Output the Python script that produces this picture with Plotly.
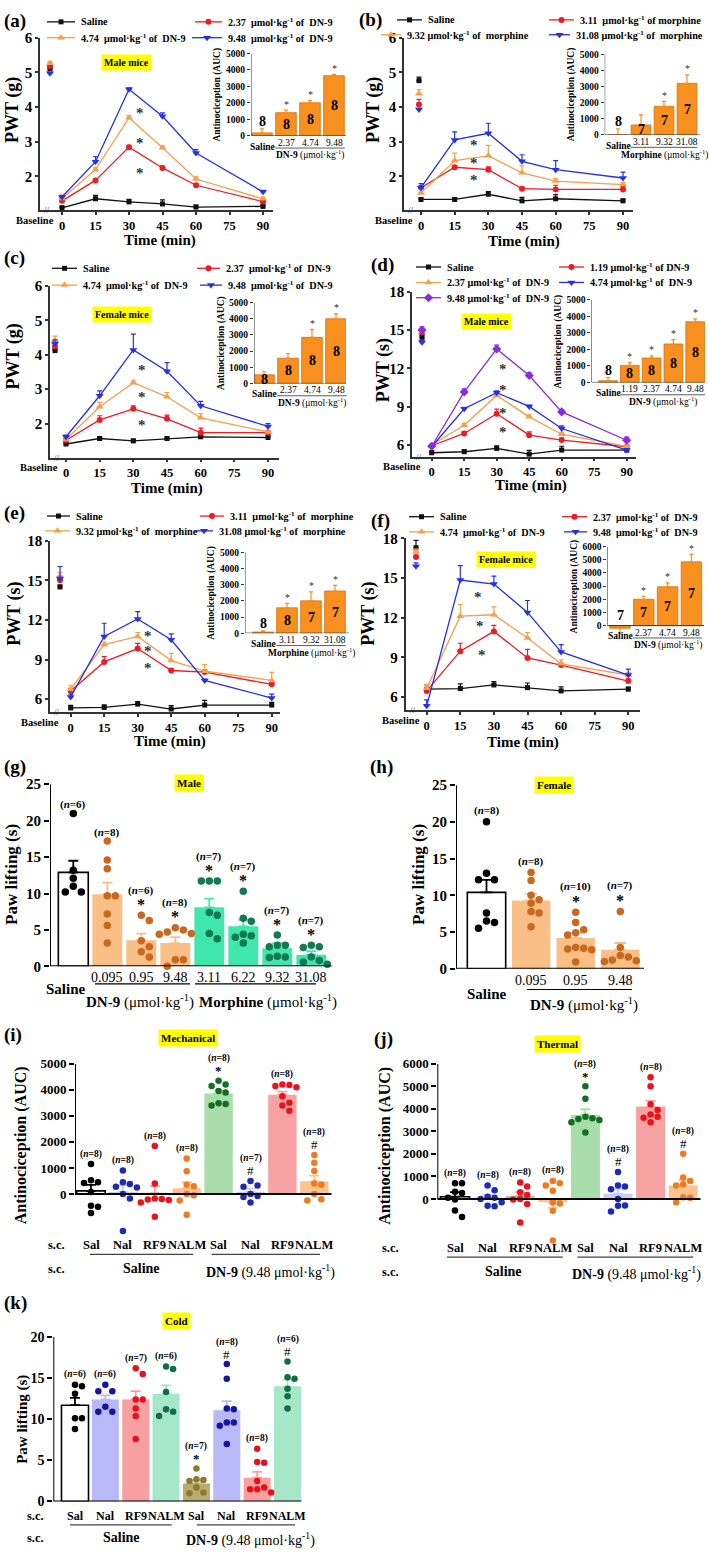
import plotly.graph_objects as go

W, H = 709, 1557
SERIF = "Liberation Serif"

# ======================= DATA =======================
TIMES = [0, 15, 30, 45, 60, 90]
TIME_TICKS = [0, 15, 30, 45, 60, 75, 90]

# ---- (a) male mice, DN-9, PWT (g) ----
a_legend = ["Saline", "2.37  μmol·kg<sup>-1</sup> of  DN-9", "4.74  μmol·kg<sup>-1</sup> of  DN-9", "9.48  μmol·kg<sup>-1</sup> of  DN-9"]
a_baseline = [5.10, 5.18, 5.26, 4.97]
a_baseline_err = [0.05, 0.05, 0.06, 0.03]
a_saline = [1.09, 1.35, 1.26, 1.20, 1.11, 1.13]
a_saline_err = [0.05, 0.10, 0.07, 0.12, 0.06, 0.06]
a_dn9_237 = [1.29, 1.88, 2.84, 2.24, 1.74, 1.27]
a_dn9_237_err = [0.05, 0.04, 0.05, 0.05, 0.05, 0.06]
a_dn9_474 = [1.36, 2.19, 3.69, 2.82, 1.92, 1.35]
a_dn9_474_err = [0.10, 0.05, 0.06, 0.05, 0.06, 0.05]
a_dn9_948 = [1.40, 2.42, 4.51, 3.73, 2.67, 1.55]
a_dn9_948_err = [0.04, 0.15, 0.04, 0.10, 0.10, 0.04]
a_star_t = [35, 35, 35]
a_star_v = [3.83, 2.97, 2.09]
a_auc_cats = ["Saline", "2.37", "4.74", "9.48"]
a_auc = [170, 1400, 2000, 3650]
a_auc_err = [250, 160, 150, 80]
a_auc_n = [8, 8, 8, 8]
a_auc_star = [0, 1, 1, 1]

# ---- (b) morphine, PWT (g) ----
b_legend = ["Saline", "3.11  μmol·kg<sup>-1</sup> of morphine", "9.32 μmol·kg<sup>-1</sup> of  morphine", "31.08 μmol·kg<sup>-1</sup> of  morphine"]
b_baseline = [4.76, 4.07, 4.38, 3.93]
b_baseline_err = [0.10, 0.15, 0.12, 0.03]
b_saline = [1.33, 1.33, 1.48, 1.29, 1.35, 1.29]
b_saline_err = [0.05, 0.05, 0.08, 0.10, 0.12, 0.05]
b_mor_311 = [1.67, 2.26, 2.19, 1.64, 1.62, 1.62]
b_mor_311_err = [0.05, 0.05, 0.08, 0.05, 0.12, 0.08]
b_mor_932 = [1.52, 2.45, 2.59, 2.10, 1.86, 1.76]
b_mor_932_err = [0.10, 0.22, 0.30, 0.20, 0.07, 0.06]
b_mor_3108 = [1.67, 3.05, 3.24, 2.43, 2.19, 1.95]
b_mor_3108_err = [0.12, 0.23, 0.29, 0.19, 0.26, 0.17]
b_star_t = [23.5, 23.5, 23.5]
b_star_v = [2.90, 2.38, 1.90]
b_auc_cats = ["Saline", "3.11", "9.32", "31.08"]
b_auc = [0, 620, 1780, 3200]
b_auc_err = [380, 620, 300, 520]
b_auc_n = [8, 7, 7, 7]
b_auc_star = [0, 0, 1, 1]

# ---- (c) female mice, DN-9, PWT (g) ----
c_legend = ["Saline", "2.37  μmol·kg<sup>-1</sup> of  DN-9", "4.74  μmol·kg<sup>-1</sup> of  DN-9", "9.48  μmol·kg<sup>-1</sup> of  DN-9"]
c_baseline = [4.12, 4.25, 4.42, 4.33]
c_baseline_err = [0.05, 0.08, 0.12, 0.10]
c_saline = [1.41, 1.57, 1.50, 1.57, 1.62, 1.60]
c_saline_err = [0.04, 0.04, 0.05, 0.04, 0.04, 0.04]
c_dn9_237 = [1.52, 2.11, 2.43, 2.14, 1.74, 1.74]
c_dn9_237_err = [0.04, 0.12, 0.09, 0.11, 0.13, 0.05]
c_dn9_474 = [1.54, 2.49, 3.19, 2.78, 2.17, 1.76]
c_dn9_474_err = [0.04, 0.13, 0.07, 0.12, 0.12, 0.05]
c_dn9_948 = [1.62, 2.81, 4.14, 3.52, 2.52, 1.92]
c_dn9_948_err = [0.05, 0.14, 0.46, 0.25, 0.13, 0.08]
c_star_t = [34, 34, 34]
c_star_v = [3.57, 2.76, 1.95]
c_auc_cats = ["Saline", "2.37", "4.74", "9.48"]
c_auc = [530, 1560, 2850, 4000]
c_auc_err = [190, 290, 500, 300]
c_auc_n = [8, 8, 8, 8]
c_auc_star = [0, 0, 1, 1]

# ---- (d) male mice, DN-9, PWT (s) ----
d_legend = ["Saline", "1.19 μmol·kg<sup>-1</sup> of DN-9", "2.37 μmol·kg<sup>-1</sup> of  DN-9", "4.74 μmol·kg<sup>-1</sup> of  DN-9", "9.48 μmol·kg<sup>-1</sup> of  DN-9"]
d_baseline = [14.43, 14.80, 14.90, 14.04, 15.00]
d_baseline_err = [0.20, 0.20, 0.20, 0.15, 0.25]
d_saline = [5.39, 5.47, 5.73, 5.28, 5.60, 5.60]
d_saline_err = [0.15, 0.15, 0.20, 0.30, 0.30, 0.15]
d_dn9_119 = [5.94, 6.90, 8.45, 6.77, 6.38, 5.86]
d_dn9_119_err = [0.10, 0.15, 0.35, 0.25, 0.15, 0.10]
d_dn9_237 = [6.00, 7.54, 9.88, 8.20, 6.84, 5.88]
d_dn9_237_err = [0.10, 0.15, 0.15, 0.15, 0.15, 0.10]
d_dn9_474 = [5.86, 8.84, 10.09, 9.02, 7.29, 5.60]
d_dn9_474_err = [0.10, 0.10, 0.15, 0.10, 0.20, 0.10]
d_dn9_948 = [5.90, 10.15, 13.52, 11.44, 8.59, 6.37]
d_dn9_948_err = [0.10, 0.25, 0.30, 0.20, 0.15, 0.25]
d_star_t = [33, 33, 33, 33]
d_star_v = [11.96, 10.27, 8.51, 7.03]
d_auc_cats = ["Saline", "1.19", "2.37", "4.74", "9.48"]
d_auc = [100, 1030, 1480, 2330, 3680]
d_auc_err = [200, 170, 130, 270, 170]
d_auc_n = [8, 8, 8, 8, 8]
d_auc_star = [0, 1, 1, 1, 1]

# ---- (e) morphine, PWT (s) ----
e_legend = ["Saline", "3.11  μmol·kg<sup>-1</sup> of  morphine", "9.32 μmol·kg<sup>-1</sup> of  morphine", "31.08 μmol·kg<sup>-1</sup> of  morphine"]
e_baseline = [14.50, 15.00, 15.30, 15.15]
e_baseline_err = [0.15, 0.30, 0.30, 0.90]
e_saline = [5.33, 5.37, 5.62, 5.25, 5.55, 5.55]
e_saline_err = [0.20, 0.20, 0.20, 0.25, 0.35, 0.20]
e_mor_311 = [6.62, 8.82, 9.83, 8.17, 8.05, 7.12]
e_mor_311_err = [0.20, 0.40, 0.40, 0.15, 0.15, 0.15]
e_mor_932 = [6.75, 10.13, 10.75, 8.92, 8.12, 7.42]
e_mor_932_err = [0.30, 0.20, 0.30, 0.55, 0.50, 0.60]
e_mor_3108 = [6.17, 10.75, 12.08, 10.50, 7.42, 6.08]
e_mor_3108_err = [0.20, 1.00, 0.55, 0.45, 0.10, 0.30]
e_star_t = [34.7, 34.7, 34.7]
e_star_v = [10.82, 9.62, 8.33]
e_auc_cats = ["Saline", "3.11", "9.32", "31.08"]
e_auc = [70, 1570, 2000, 2610]
e_auc_err = [80, 270, 550, 350]
e_auc_n = [8, 8, 7, 7]
e_auc_star = [0, 1, 1, 1]

# ---- (f) female mice, DN-9, PWT (s) ----
f_legend = ["Saline", "2.37  μmol·kg<sup>-1</sup> of  DN-9", "4.74  μmol·kg<sup>-1</sup> of  DN-9", "9.48  μmol·kg<sup>-1</sup> of  DN-9"]
f_baseline = [17.30, 16.60, 17.00, 15.90]
f_baseline_err = [0.55, 0.15, 0.20, 0.25]
f_saline = [6.58, 6.63, 6.90, 6.70, 6.45, 6.58]
f_saline_err = [0.35, 0.35, 0.25, 0.35, 0.30, 0.15]
f_dn9_237 = [6.45, 9.46, 10.96, 8.95, 8.41, 7.20]
f_dn9_237_err = [0.20, 0.60, 0.45, 0.65, 0.10, 0.15]
f_dn9_474 = [6.65, 12.11, 12.22, 10.46, 8.50, 7.65]
f_dn9_474_err = [0.30, 0.90, 0.60, 0.40, 0.30, 0.20]
f_dn9_948 = [5.32, 14.85, 14.55, 12.40, 9.40, 7.65]
f_dn9_948_err = [0.45, 1.10, 0.60, 0.90, 0.55, 0.45]
f_star_t = [23.0, 23.8, 24.8]
f_star_v = [13.6, 11.34, 9.2]
f_auc_cats = ["Saline", "2.37", "4.74", "9.48"]
f_auc = [-200, 2000, 2950, 4850]
f_auc_err = [400, 230, 300, 570]
f_auc_n = [7, 7, 7, 7]
f_auc_star = [0, 1, 1, 1]

# ---- (g) male, paw lifting ----
g_cats = ["Saline", "0.095", "0.95", "9.48", "3.11", "6.22", "9.32", "31.08"]
g_bar = [12.9, 9.9, 3.6, 3.2, 8.1, 5.5, 2.5, 1.6]
g_err = [1.6, 1.6, 0.9, 0.8, 1.2, 0.9, 0.7, 0.5]
g_pts = [
    [21.0, 13.2, 12.1, 11.0, 10.2, 10.2],
    [17.2, 14.6, 13.4, 9.7, 9.7, 7.2, 5.6, 3.2],
    [7.0, 6.3, 3.5, 2.7, 2.0, 1.3],
    [5.3, 5.0, 4.7, 4.5, 4.4, 0.9, 0.9, 0.0],
    [11.7, 11.7, 11.7, 7.4, 7.0, 4.5, 3.8],
    [10.3, 6.6, 6.2, 4.4, 4.2, 4.0, 3.2],
    [4.3, 2.9, 2.9, 2.7, 1.4, 1.3, 1.2],
    [2.9, 2.7, 2.6, 1.3, 0.8, 0.6, 0.3],
]
g_n = [6, 8, 6, 8, 7, 7, 7, 7]
g_marks = ["", "", "*", "*", "*", "*", "*", "*"]

# ---- (h) female, paw lifting ----
h_cats = ["Saline", "0.095", "0.95", "9.48"]
h_bar = [10.4, 9.3, 4.2, 2.6]
h_err = [1.7, 0.9, 0.7, 0.9]
h_pts = [
    [20.0, 13.0, 12.1, 12.1, 7.6, 6.5, 6.3, 5.5],
    [13.1, 12.0, 10.0, 9.4, 8.9, 7.8, 7.6, 5.7],
    [7.7, 6.3, 5.3, 4.9, 4.6, 2.9, 2.8, 2.7, 2.6, 0.9],
    [7.8, 2.9, 1.8, 1.6, 1.2, 1.1, 1.0],
]
h_n = [8, 8, 10, 7]
h_marks = ["", "", "*", "*"]

# ---- (i) mechanical AUC ----
AB_CATS = ["Sal", "Nal", "RF9", "NALM", "Sal", "Nal", "RF9", "NALM"]
i_bar = [120, 80, 30, 220, 3860, 83, 3810, 485]
i_err = [230, 250, 270, 230, 110, 120, 120, 220]
i_pts = [
    [1150, 530, 450, 420, 80, -450, -490, -730],
    [900, 450, 380, 280, 250, 0, -170, -1420],
    [1840, 400, -170, -190, -210, -230, -330, -870],
    [1360, 870, 350, 300, 0, -50, -250, -800],
    [4350, 4200, 4150, 3950, 3900, 3480, 3450, 3400],
    [500, 330, 280, 0, -80, -120, -330],
    [4200, 4180, 4150, 4100, 3750, 3500, 3400, 3200],
    [1500, 1200, 880, 400, 350, 0, -200, -250],
]
i_n = [8, 8, 8, 8, 8, 7, 8, 8]
i_marks = ["", "", "", "", "*", "#", "", "#"]

# ---- (j) thermal AUC ----
j_bar = [100, 60, 130, -150, 3730, 230, 4100, 600]
j_err = [200, 120, 170, 250, 250, 200, 250, 250]
j_pts = [
    [700, 700, 320, 260, 50, -30, -510, -800],
    [600, 380, 100, 50, 0, -150, -300, -320],
    [730, 550, 300, 180, 0, -30, -220, -1050],
    [800, 700, 600, 360, -160, -200, -520, -1850],
    [5000, 4450, 3650, 3580, 3550, 3500, 3400, 2950],
    [1200, 600, 550, 430, 0, -290, -300, -560],
    [5400, 5000, 4200, 3950, 3750, 3650, 3600, 3400],
    [2000, 950, 800, 650, 600, 80, 50, -150],
]
j_n = [8, 8, 8, 8, 8, 8, 8, 8]
j_marks = ["", "", "", "", "*", "#", "", "#"]

# ---- (k) cold, paw lifting ----
k_bar = [11.7, 12.4, 12.4, 13.1, 2.2, 11.1, 2.9, 14.0]
k_err = [0.9, 0.5, 1.0, 1.0, 0.4, 1.1, 0.7, 0.8]
k_pts = [
    [14.2, 14.0, 13.1, 10.1, 10.1, 8.8],
    [14.2, 13.4, 13.4, 11.5, 10.9, 10.9],
    [16.2, 15.5, 12.4, 12.4, 11.3, 10.4, 7.6],
    [16.4, 16.1, 13.3, 11.2, 10.9, 10.4],
    [4.0, 2.7, 2.6, 2.5, 1.7, 1.1, 1.0],
    [16.7, 14.9, 11.3, 11.2, 9.6, 9.6, 9.2, 7.0],
    [6.4, 4.8, 4.7, 2.5, 1.7, 1.5, 1.5, 1.1],
    [17.0, 15.1, 14.9, 13.7, 12.8, 11.3],
]
k_n = [6, 6, 7, 6, 7, 8, 8, 6]
k_marks = ["", "", "", "", "*", "#", "", "#"]

# ======================= HELPERS =======================
fig = go.Figure()
ANN, SHP, LEG = [], [], []
_n = [0]

STYLE = {
    'sal': dict(color='#111111', symbol='square', size=5),
    'red': dict(color='#EE1C25', symbol='circle', size=6),
    'org': dict(color='#F5A04A', symbol='triangle-up', size=7),
    'blu': dict(color='#2530E8', symbol='triangle-down', size=7),
    'pur': dict(color='#8A2BE2', symbol='diamond', size=7),
}
INSET_ORANGE = '#F7901E'


def add_axes(x0, x1, y0, y1, xr, yr, xkw=None, ykw=None):
    _n[0] += 1
    s = '' if _n[0] == 1 else str(_n[0])
    base = dict(showgrid=False, zeroline=False, fixedrange=True)
    xa = dict(base, domain=[max(0, x0 / W), min(1, x1 / W)], range=xr, anchor='y' + s)
    ya = dict(base, domain=[max(0, 1 - y1 / H), min(1, 1 - y0 / H)], range=yr, anchor='x' + s)
    xa.update(xkw or {})
    ya.update(ykw or {})
    fig.update_layout(**{'xaxis' + s: xa, 'yaxis' + s: ya})
    return 'x' + s, 'y' + s


def tfont(size):
    return dict(family=SERIF, size=size, color='black', weight='bold')


def T(px, py, text, size=12, bold=True, xa='center', ya='middle', color='black', bg=None, angle=0):
    t = "<b>%s</b>" % text if bold else text
    d = dict(x=px / W, y=1 - py / H, xref='paper', yref='paper', text=t, showarrow=False,
             xanchor=xa, yanchor=ya, font=dict(family=SERIF, size=size, color=color), textangle=angle)
    if bg:
        d.update(bgcolor=bg, borderpad=2)
    ANN.append(d)


def TD(xr, yr, x, y, text, size=12, bold=True, yshift=0, color='black'):
    t = "<b>%s</b>" % text if bold else text
    ANN.append(dict(x=x, y=y, xref=xr, yref=yr, text=t, showarrow=False, yshift=yshift,
                    xanchor='center', yanchor='middle', font=dict(family=SERIF, size=size, color=color)))


def L(x0, y0, x1, y1, color='black', w=1.2):
    SHP.append(dict(type='line', xref='paper', yref='paper', x0=x0 / W, x1=x1 / W,
                    y0=1 - y0 / H, y1=1 - y1 / H, line=dict(color=color, width=w)))


def LD(xr, yr, x0, y0, x1, y1, color='black', w=2):
    SHP.append(dict(type='line', xref=xr, yref=yr, x0=x0, x1=x1, y0=y0, y1=y1,
                    line=dict(color=color, width=w)))


def swarm(vals, ppu_y, d):
    order = sorted(range(len(vals)), key=lambda i: -vals[i])
    placed, offs = [], [0.0] * len(vals)
    cands = [0.0]
    for m in range(1, 8):
        cands += [m * d, -m * d]
    for i in order:
        y = vals[i] * ppu_y
        for c in cands:
            if all((c - px) ** 2 + (y - py) ** 2 >= (0.97 * d) ** 2 for px, py in placed):
                offs[i] = c
                placed.append((c, y))
                break
    return offs


# ---------------- line panels ----------------
def line_panel(P):
    xs = (P['p90'] - P['p0']) / 90.0
    tof = lambda px: (px - P['p0']) / xs
    k = (P['vB'] - P['vA']) / (P['pB'] - P['pA'])
    vof = lambda py: P['vA'] + (py - P['pA']) * k
    axl = dict(showline=True, linecolor='#333', linewidth=1.5, ticks='outside', ticklen=3,
               tickwidth=1.5, tickcolor='#333')
    xa, ya = add_axes(P['l'], P['r'], P['top'], P['bot'],
                      [tof(P['l']), tof(P['r'])], [vof(P['bot']), vof(P['top'])],
                      xkw=dict(axl, tickvals=TIME_TICKS, ticktext=[str(t) for t in TIME_TICKS], tickfont=tfont(12.5)),
                      ykw=dict(axl, tickvals=P['yticks'], ticktext=[str(t) for t in P['yticks']], tickfont=tfont(15)))
    bt = tof(P['bx'])
    for vals, errs, base, berr, sty in P['series']:
        st = STYLE[sty]
        mk = dict(symbol=st['symbol'], size=st['size'], color=st['color'])
        eb = dict(type='data', symmetric=False, array=errs, arrayminus=[0] * len(errs),
                  color=st['color'], thickness=1.2, width=2.5)
        fig.add_trace(go.Scatter(x=TIMES, y=vals, mode='lines+markers', line=dict(color=st['color'], width=1.3),
                                 marker=mk, error_y=eb, xaxis=xa, yaxis=ya, cliponaxis=False, showlegend=False))
        fig.add_trace(go.Scatter(x=[bt], y=[base], mode='markers', marker=mk,
                                 error_y=dict(eb, array=[berr], arrayminus=[0]),
                                 xaxis=xa, yaxis=ya, cliponaxis=False, showlegend=False))
    for t, v in zip(*P['stars']):
        TD(xa, ya, t, v, '*', size=15, bold=True, color='#333')
    T(P['bl'][0], P['bl'][1], 'Baseline', size=10.5)
    T(P['l'] + 7, P['bot'], '//', size=9, bold=False, color='#333')
    T(P['xt'][0], P['xt'][1] + 3, 'Time (min)', size=15)
    T(P['yt'][0], P['yt'][1], P['ytitle'], size=18, angle=-90)
    T(P['lab'][0], P['lab'][1], P['label'], size=19, bold=True, xa='left')
    if P.get('tag'):
        T(P['tag'][1], P['tag'][2], P['tag'][0], size=10, bg='#FFFF00')
    for (y, x0, x1, sty, txt) in P['legend']:
        L(x0, y, x1, y, color=STYLE[sty]['color'], w=1.3)
        LEG.append(((x0 + x1) / 2, y, sty))
        T(x1 + 4, y, txt, size=10.2, xa='left')


def inset(P):
    n = len(P['cats'])
    step = P['step']
    xr = [(P['l'] - P['c0']) / step, (P['r'] - P['c0']) / step]
    ppu = (P['y0'] - P['ytop']) / P['ymax']
    ymin = P.get('ymin', 0)
    bot = P['y0'] - ymin * ppu
    yt = list(range(0, P['ymax'] + 1, 1000))
    xa, ya = add_axes(P['l'], P['r'], P['ytop'], bot, xr, [ymin, P['ymax']],
                      xkw=dict(visible=False),
                      ykw=dict(showline=False, ticks='outside', ticklen=3, tickwidth=1, tickcolor='#333',
                               tickvals=yt, ticktext=[str(v) for v in yt], tickfont=tfont(9.5)))
    LD(xa, ya, xr[0], 0, xr[0], P['ymax'], color='#333', w=1)
    LD(xa, ya, xr[0], 0, xr[1], 0, color='#333', w=1)
    for i in range(n):
        v, e = P['vals'][i], P['errs'][i]
        fig.add_trace(go.Bar(x=[i], y=[v], width=0.86,
                             marker=dict(color=INSET_ORANGE, line=dict(color='#D9700C', width=0.8)),
                             error_y=dict(type='data', symmetric=False, array=[e if v >= 0 else 0],
                                          arrayminus=[0 if v >= 0 else e], color=INSET_ORANGE,
                                          thickness=1.2, width=2),
                             xaxis=xa, yaxis=ya, showlegend=False))
        if v >= 400:
            ny = v / 2
        else:
            ny = max(v + e, 0) + 0.09 * P['ymax']
        TD(xa, ya, i, ny, str(P['n'][i]), size=14)
        if P['star'][i]:
            TD(xa, ya, i, v + e, '*', size=10, bold=False, yshift=6, color='#333')
        cx = P['c0'] + i * step
        if i == 0:
            T(cx, P['y0'] + 11, 'Saline', size=9.5)
        else:
            T(cx, P['y0'] + 7, P['cats'][i], size=9.5, bold=False)
    x0 = P['c0'] + 0.55 * step
    x1 = P['c0'] + (n - 1) * step + 0.45 * step
    L(x0, P['y0'] + 12.5, x1, P['y0'] + 12.5, color='#333', w=0.8)
    T((x0 + x1) / 2, P['y0'] + 19.5, P['group'], size=9.5, bold=False)
    T(P['l'] - 33, (P['ytop'] + P['y0']) / 2, 'Antinociception (AUC)', size=9.5, angle=-90)


def bar_panel(P):
    n = len(P['bars'])
    step = P['step']
    xr = [(P['l'] - P['c0']) / step, (P['r'] - P['c0']) / step]
    ppu = (P['y0'] - P['ytop']) / P['ymax']
    ymin = P.get('ymin', 0)
    bot = P['y0'] - ymin * ppu
    xa, ya = add_axes(P['l'], P['r'], P['ytop'], bot, xr, [ymin, P['ymax']],
                      xkw=dict(visible=False),
                      ykw=dict(showline=False, ticks='outside', ticklen=5, tickwidth=2, tickcolor='black',
                               tickvals=P['yticks'], ticktext=[str(v) for v in P['yticks']],
                               tickfont=tfont(P['tsize'])))
    LD(xa, ya, xr[0], 0, xr[0], P['ymax'], w=2)
    LD(xa, ya, xr[0], 0, xr[1], 0, w=2)
    for i in range(n):
        v, e = P['bars'][i], P['errs'][i]
        fill, dot = P['fill'][i], P['dot'][i]
        white = fill == 'white'
        fig.add_trace(go.Bar(x=[i], y=[v], width=P['bw'],
                             marker=dict(color=fill, line=dict(color='black' if white else fill, width=1.6 if white else 0)),
                             error_y=dict(type='data', symmetric=False, array=[e if v >= 0 else 0],
                                          arrayminus=[0 if v >= 0 else e], color='black' if white else fill,
                                          thickness=1.8, width=P['capw']),
                             xaxis=xa, yaxis=ya, showlegend=False))
        offs = swarm(P['pts'][i], ppu, P['dd'])
        fig.add_trace(go.Scatter(x=[i + o / step for o in offs], y=P['pts'][i], mode='markers',
                                 marker=dict(color=dot, size=P['ds']), xaxis=xa, yaxis=ya,
                                 cliponaxis=False, showlegend=False))
        top = max(max(P['pts'][i]), v + e)
        lab = "(<i>n</i>=%d)" % P['n'][i]
        if P['marks'][i]:
            TD(xa, ya, i, top, P['marks'][i], size=P['msize'], bold=P['marks'][i] == '*', yshift=P['mshift'])
            TD(xa, ya, i, top, lab, size=P['nsize'], yshift=P['nshift2'])
        else:
            TD(xa, ya, i, top, lab, size=P['nsize'], yshift=P['nshift1'])
    return [P['c0'] + i * step for i in range(n)]


# ======================= LINE PANELS =======================
LINE_PANELS = [
    dict(label='(a)', lab=(2, 13), l=40, r=273, p0=62, p90=263, top=30, bot=204, vA=6, pA=30, vB=2, pB=170, bx=50,
         yticks=[2, 3, 4, 5, 6], ytitle='PWT (g)', yt=(13, 103), xt=(160, 232), bl=(35, 215),
         series=[(a_saline, a_saline_err, a_baseline[0], a_baseline_err[0], 'sal'),
                 (a_dn9_237, a_dn9_237_err, a_baseline[1], a_baseline_err[1], 'red'),
                 (a_dn9_474, a_dn9_474_err, a_baseline[2], a_baseline_err[2], 'org'),
                 (a_dn9_948, a_dn9_948_err, a_baseline[3], a_baseline_err[3], 'blu')],
         stars=(a_star_t, a_star_v),
         legend=[(14, 47, 75, 'sal', a_legend[0]), (14, 195, 222, 'red', a_legend[1]),
                 (30, 47, 75, 'org', a_legend[2]), (30, 192, 222, 'blu', a_legend[3])],
         tag=('Male mice', 126, 55)),
    dict(label='(b)', lab=(357, 12), l=404, r=633, p0=421, p90=623, top=30, bot=204, vA=6, pA=30, vB=2, pB=170, bx=419,
         yticks=[2, 3, 4, 5, 6], ytitle='PWT (g)', yt=(374, 103), xt=(524, 233), bl=(394, 215),
         series=[(b_saline, b_saline_err, b_baseline[0], b_baseline_err[0], 'sal'),
                 (b_mor_311, b_mor_311_err, b_baseline[1], b_baseline_err[1], 'red'),
                 (b_mor_932, b_mor_932_err, b_baseline[2], b_baseline_err[2], 'org'),
                 (b_mor_3108, b_mor_3108_err, b_baseline[3], b_baseline_err[3], 'blu')],
         stars=(b_star_t, b_star_v),
         legend=[(12, 397, 422, 'sal', b_legend[0]), (12, 549, 574, 'red', b_legend[1]),
                 (27, 381, 401, 'org', b_legend[2]), (27, 549, 570, 'blu', b_legend[3])],
         tag=None),
    dict(label='(c)', lab=(2, 253), l=50, r=279, p0=66, p90=268, top=280.7, bot=454.3, vA=6, pA=280.7, vB=2, pB=420, bx=55,
         yticks=[2, 3, 4, 5, 6], ytitle='PWT (g)', yt=(13, 352), xt=(167, 482), bl=(39, 464),
         series=[(c_saline, c_saline_err, c_baseline[0], c_baseline_err[0], 'sal'),
                 (c_dn9_237, c_dn9_237_err, c_baseline[1], c_baseline_err[1], 'red'),
                 (c_dn9_474, c_dn9_474_err, c_baseline[2], c_baseline_err[2], 'org'),
                 (c_dn9_948, c_dn9_948_err, c_baseline[3], c_baseline_err[3], 'blu')],
         stars=(c_star_t, c_star_v),
         legend=[(263, 52, 77, 'sal', c_legend[0]), (263, 197, 220, 'red', c_legend[1]),
                 (280, 52, 77, 'org', c_legend[2]), (280, 200, 222, 'blu', c_legend[3])],
         tag=('Female mice', 122, 310)),
    dict(label='(d)', lab=(369, 260), l=412, r=636, p0=431.7, p90=626.7, top=286.7, bot=453.3, vA=18, pA=286.7, vB=6, pB=441.5, bx=422,
         yticks=[6, 9, 12, 15, 18], ytitle='PWT (s)', yt=(383, 366), xt=(531, 479), bl=(402, 463),
         series=[(d_saline, d_saline_err, d_baseline[0], d_baseline_err[0], 'sal'),
                 (d_dn9_119, d_dn9_119_err, d_baseline[1], d_baseline_err[1], 'red'),
                 (d_dn9_237, d_dn9_237_err, d_baseline[2], d_baseline_err[2], 'org'),
                 (d_dn9_474, d_dn9_474_err, d_baseline[3], d_baseline_err[3], 'blu'),
                 (d_dn9_948, d_dn9_948_err, d_baseline[4], d_baseline_err[4], 'pur')],
         stars=(d_star_t, d_star_v),
         legend=[(261.7, 416, 441, 'sal', d_legend[0]), (261.7, 559, 584, 'red', d_legend[1]),
                 (277.3, 416, 441, 'org', d_legend[2]), (277.3, 559, 584, 'blu', d_legend[3]),
                 (292.7, 416, 441, 'pur', d_legend[4])],
         tag=('Male mice', 486, 317)),
    dict(label='(e)', lab=(2, 510), l=50, r=280, p0=70.7, p90=271.7, top=538.3, bot=711.7, vA=18, pA=538.3, vB=6, pB=698.3, bx=60,
         yticks=[6, 9, 12, 15, 18], ytitle='PWT (s)', yt=(15, 612), xt=(170, 738), bl=(40, 722),
         series=[(e_saline, e_saline_err, e_baseline[0], e_baseline_err[0], 'sal'),
                 (e_mor_311, e_mor_311_err, e_baseline[1], e_baseline_err[1], 'red'),
                 (e_mor_932, e_mor_932_err, e_baseline[2], e_baseline_err[2], 'org'),
                 (e_mor_3108, e_mor_3108_err, e_baseline[3], e_baseline_err[3], 'blu')],
         stars=(e_star_t, e_star_v),
         legend=[(513.3, 47, 70, 'sal', e_legend[0]), (513.3, 200, 224, 'red', e_legend[1]),
                 (528.3, 45, 70, 'org', e_legend[2]), (528.3, 195, 213, 'blu', e_legend[3])],
         tag=None),
    dict(label='(f)', lab=(369, 518), l=405.5, r=640, p0=426.7, p90=628.3, top=536, bot=709.3, vA=18, pA=536, vB=6, pB=696, bx=416,
         yticks=[6, 9, 12, 15, 18], ytitle='PWT (s)', yt=(369, 612), xt=(523, 739), bl=(401, 720),
         series=[(f_saline, f_saline_err, f_baseline[0], f_baseline_err[0], 'sal'),
                 (f_dn9_237, f_dn9_237_err, f_baseline[1], f_baseline_err[1], 'red'),
                 (f_dn9_474, f_dn9_474_err, f_baseline[2], f_baseline_err[2], 'org'),
                 (f_dn9_948, f_dn9_948_err, f_baseline[3], f_baseline_err[3], 'blu')],
         stars=(f_star_t, f_star_v),
         legend=[(514, 409, 434, 'sal', f_legend[0]), (514, 562, 587, 'red', f_legend[1]),
                 (529.3, 409, 434, 'org', f_legend[2]), (529.3, 564, 587, 'blu', f_legend[3])],
         tag=('Female mice', 506, 557)),
]
for P in LINE_PANELS:
    line_panel(P)

DN9_G = '<b>DN-9</b> (μmol·kg<sup>-1</sup>)'
MOR_G = '<b>Morphine</b> (μmol·kg<sup>-1</sup>)'
INSETS = [
    dict(l=251, r=346, c0=262, step=24, y0=129, ytop=46, ymax=5000, cats=a_auc_cats, vals=a_auc, errs=a_auc_err, n=a_auc_n, star=a_auc_star, group=DN9_G),
    dict(l=604.7, r=700, c0=618, step=23, y0=128.3, ytop=46.7, ymax=5000, cats=b_auc_cats, vals=b_auc, errs=b_auc_err, n=b_auc_n, star=b_auc_star, group=MOR_G),
    dict(l=254, r=346, c0=264, step=24, y0=379.3, ytop=297.7, ymax=5000, cats=c_auc_cats, vals=c_auc, errs=c_auc_err, n=c_auc_n, star=c_auc_star, group=DN9_G),
    dict(l=591.3, r=705, c0=608, step=21.8, y0=378.3, ytop=295, ymax=5000, cats=d_auc_cats, vals=d_auc, errs=d_auc_err, n=d_auc_n, star=d_auc_star, group=DN9_G),
    dict(l=245, r=349, c0=263, step=24, y0=631.7, ytop=550, ymax=5000, cats=e_auc_cats, vals=e_auc, errs=e_auc_err, n=e_auc_n, star=e_auc_star, group=MOR_G),
    dict(l=607.3, r=704, c0=620, step=23.8, y0=624, ytop=544.3, ymax=6000, ymin=-700, cats=f_auc_cats, vals=f_auc, errs=f_auc_err, n=f_auc_n, star=f_auc_star, group=DN9_G),
]
for P in INSETS:
    inset(P)

# ======================= BAR PANELS =======================
DN_BAR, DN_DOT = '#F9BF86', '#C8691F'
MO_BAR, MO_DOT = '#3FE6AE', '#127A52'

# (g)
cx = bar_panel(dict(l=50, r=331.7, c0=73.3, step=34, y0=968.3, ytop=784.3, ymax=25, yticks=[0, 5, 10, 15, 20, 25],
                    tsize=15, bars=g_bar, errs=g_err, pts=g_pts, n=g_n, marks=g_marks,
                    fill=['white'] + [DN_BAR] * 3 + [MO_BAR] * 4, dot=['black'] + [DN_DOT] * 3 + [MO_DOT] * 4,
                    bw=0.88, capw=5, ds=7.5, dd=8, msize=16, mshift=11, nsize=11, nshift1=9, nshift2=25))
for i in range(1, 8):
    T(cx[i], 980, g_cats[i], size=14, bold=False)
T(66, 991, 'Saline', size=15)
L(95, 986, 190, 986)
L(195, 986, 316, 986)
T(140, 1003.5, DN9_G, size=15, bold=False)
T(268, 1003.5, MOR_G, size=15, bold=False)
T(12, 876, 'Paw lifting (s)', size=17, angle=-90)
T(2, 767, '(g)', size=19, xa='left')
T(189, 783, 'Male', size=11, bg='#FFFF00')

# (h)
cx = bar_panel(dict(l=456, r=644, c0=486.5, step=44.6, y0=970.7, ytop=785.2, ymax=25, yticks=[0, 5, 10, 15, 20, 25],
                    tsize=15, bars=h_bar, errs=h_err, pts=h_pts, n=h_n, marks=h_marks,
                    fill=['white'] + [DN_BAR] * 3, dot=['black'] + [DN_DOT] * 3,
                    bw=0.86, capw=6, ds=7.5, dd=8, msize=16, mshift=11, nsize=11, nshift1=11, nshift2=26))
for i in range(1, 4):
    T(cx[i], 983, h_cats[i], size=14, bold=False)
T(487, 996, 'Saline', size=15)
L(527, 991.7, 632, 991.7)
T(584, 1006.7, DN9_G, size=15, bold=False)
T(419, 876, 'Paw lifting (s)', size=17, angle=-90)
T(368, 767, '(h)', size=19, xa='left')
T(554, 785, 'Female', size=11, bg='#FFFF00')

# (i)
SAL_DOT = 'black'
NAL_BAR, NAL_DOT = '#C8CCF7', '#1B2BB8'
RF9_BAR, RF9_DOT = '#F8A3A3', '#E8131B'
NALM_BAR, NALM_DOT = '#FBC48E', '#F27A1E'
GRN_BAR, GRN_DOT = '#A9DDA9', '#11701F'
cx = bar_panel(dict(l=75, r=331.7, c0=91, step=31.9, y0=1198.3, ytop=1066.7, ymax=5000, ymin=-1600,
                    yticks=[0, 1000, 2000, 3000, 4000, 5000], tsize=13,
                    bars=i_bar, errs=i_err, pts=i_pts, n=i_n, marks=i_marks,
                    fill=['white', NAL_BAR, RF9_BAR, NALM_BAR, GRN_BAR, NAL_BAR, RF9_BAR, NALM_BAR],
                    dot=[SAL_DOT, NAL_DOT, RF9_DOT, NALM_DOT, GRN_DOT, NAL_DOT, RF9_DOT, NALM_DOT],
                    bw=0.89, capw=5, ds=6.5, dd=7, msize=13, mshift=10, nsize=9.5, nshift1=10, nshift2=22))
T(56.7, 1250, 's.c.', size=12.5)
for i in range(8):
    T(cx[i], 1250, AB_CATS[i], size=12.5)
L(90, 1259.3, 193.3, 1259.3, color='#444')
L(211.7, 1259.3, 320, 1259.3, color='#444')
T(56.7, 1274, 's.c.', size=12.5)
T(141.7, 1274, 'Saline', size=14)
T(270, 1276.7, '<b>DN-9</b> (9.48 μmol·kg<sup>-1</sup>)', size=14, bold=False)
T(21, 1149, 'Antinociception (AUC)', size=16, angle=-90)
T(2, 1038, '(i)', size=19, xa='left')
T(188, 1041, 'Mechanical', size=11, bg='#FFFF00')

# (j)
cx = bar_panel(dict(l=437.3, r=700.7, c0=455, step=32.6, y0=1203.3, ytop=1066.7, ymax=6000, ymin=-2000,
                    yticks=[0, 1000, 2000, 3000, 4000, 5000, 6000], tsize=13,
                    bars=j_bar, errs=j_err, pts=j_pts, n=j_n, marks=j_marks,
                    fill=['white', NAL_BAR, RF9_BAR, NALM_BAR, GRN_BAR, NAL_BAR, RF9_BAR, NALM_BAR],
                    dot=[SAL_DOT, NAL_DOT, RF9_DOT, NALM_DOT, GRN_DOT, NAL_DOT, RF9_DOT, NALM_DOT],
                    bw=0.89, capw=5, ds=6.5, dd=7, msize=13, mshift=10, nsize=9.5, nshift1=10, nshift2=22))
T(390, 1253, 's.c.', size=12.5)
for i in range(8):
    T(cx[i], 1253, AB_CATS[i], size=12.5)
L(cx[0] - 8, 1262, cx[3] + 10, 1262, color='#444')
L(cx[4] - 8, 1262, cx[7] + 10, 1262, color='#444')
T(390, 1277, 's.c.', size=12.5)
T((cx[0] + cx[3]) / 2, 1277, 'Saline', size=14)
T((cx[4] + cx[7]) / 2 + 2, 1279, '<b>DN-9</b> (9.48 μmol·kg<sup>-1</sup>)', size=14, bold=False)
T(385.5, 1150, 'Antinociception (AUC)', size=16, angle=-90)
T(372, 1042, '(j)', size=19, xa='left')
T(557, 1047, 'Thermal', size=11, bg='#FFFF00')

# (k)
K_NAL_BAR, K_NAL_DOT = '#B9B9F7', '#15159E'
K_RF9_BAR, K_RF9_DOT = '#F8A0A0', '#E8101A'
K_NALM_BAR, K_NALM_DOT = '#A6E6C9', '#0E6E4A'
K_SAL2_BAR, K_SAL2_DOT = '#B9AC72', '#8C7A2F'
cx = bar_panel(dict(l=53.3, r=301.7, c0=75, step=30.36, y0=1509, ytop=1342.7, ymax=20, yticks=[0, 5, 10, 15, 20],
                    tsize=14, bars=k_bar, errs=k_err, pts=k_pts, n=k_n, marks=k_marks,
                    fill=['white', K_NAL_BAR, K_RF9_BAR, K_NALM_BAR, K_SAL2_BAR, K_NAL_BAR, K_RF9_BAR, K_NALM_BAR],
                    dot=['black', K_NAL_DOT, K_RF9_DOT, K_NALM_DOT, K_SAL2_DOT, K_NAL_DOT, K_RF9_DOT, K_NALM_DOT],
                    bw=0.89, capw=5, ds=6.5, dd=7, msize=13, mshift=10, nsize=9.5, nshift1=10, nshift2=22))
T(35, 1523.3, 's.c.', size=12.5)
for i in range(8):
    T(cx[i], 1523.3, AB_CATS[i], size=12)
L(70, 1532.7, 171.7, 1532.7, color='#444')
L(196.7, 1532.7, 295, 1532.7, color='#444')
T(35, 1545.7, 's.c.', size=12.5)
T(121.7, 1545.7, 'Saline', size=14)
T(250, 1547.7, '<b>DN-9</b> (9.48 μmol·kg<sup>-1</sup>)', size=14, bold=False)
T(22.5, 1426, 'Paw lifting (s)', size=15, angle=-90)
T(2, 1308, '(k)', size=19, xa='left')
T(176, 1327, 'Cold', size=11, bg='#FFFF00')

# ======================= LEGEND GLYPHS (pixel overlay) =======================
xo, yo = add_axes(0, W, 0, H, [0, W], [H, 0], xkw=dict(visible=False), ykw=dict(visible=False))
for sty, st in STYLE.items():
    pts = [(x, y) for (x, y, s) in LEG if s == sty]
    if pts:
        fig.add_trace(go.Scatter(x=[p[0] for p in pts], y=[p[1] for p in pts], mode='markers',
                                 marker=dict(symbol=st['symbol'], size=st['size'], color=st['color']),
                                 xaxis=xo, yaxis=yo, showlegend=False, hoverinfo='skip'))

fig.update_layout(width=W, height=H, margin=dict(l=0, r=0, t=0, b=0), paper_bgcolor='white',
                  plot_bgcolor='rgba(0,0,0,0)', barmode='overlay', showlegend=False,
                  annotations=ANN, shapes=SHP)
fig.write_html("out.html", config={'displayModeBar': False},
               post_script="document.body.style.margin='0px';")
